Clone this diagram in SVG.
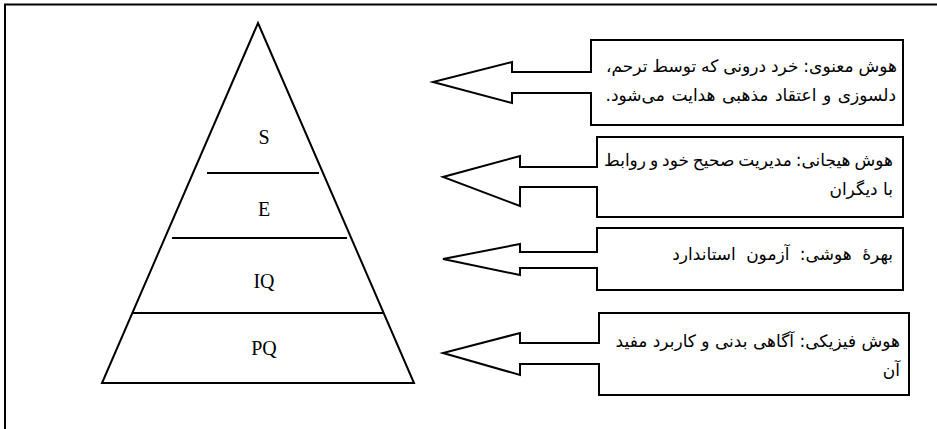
<svg xmlns="http://www.w3.org/2000/svg" width="937" height="429" viewBox="0 0 937 429">
<style>
.ln{fill:none;stroke:#000;stroke-width:2}
.co{fill:#fff;stroke:#000;stroke-width:2;stroke-linejoin:miter}
.lv{font-family:"Liberation Serif","Times New Roman",serif;font-size:20px;text-anchor:middle;fill:#000}
.fa{font-family:"DejaVu Sans","Noto Sans",sans-serif;font-size:17px;fill:#000;direction:rtl;text-anchor:start}
</style>
<rect width="937" height="429" fill="#fff"/>
<path class="ln" d="M5,429 V4.5 H937" stroke-width="2"/>
<g id="pyramid">
<polygon class="ln" points="258,23 414,383 102,383"/>
<line class="ln" x1="207" y1="173" x2="319" y2="173"/>
<line class="ln" x1="172" y1="238" x2="347" y2="238"/>
<line class="ln" x1="133" y1="313" x2="383" y2="313"/>
</g>
<g id="level-S"><text class="lv" x="264" y="144">S</text></g>
<g id="level-E"><text class="lv" x="264" y="216">E</text></g>
<g id="level-IQ"><text class="lv" x="264" y="288">IQ</text></g>
<g id="level-PQ"><text class="lv" x="264" y="355">PQ</text></g>
<g id="callout-spiritual">
<polygon class="co" points="591,40 903,40 903,125 591,125 591,93 512,93 512,103 433,82 512,62 512,72 591,72"/>
<text class="fa" x="897" y="72" word-spacing="-0.5">هوش معنوی: خرد درونی که توسط ترحم،</text>
<text class="fa" x="896" y="101" word-spacing="1.2">دلسوزی و اعتقاد مذهبی هدایت می‌شود.</text>
</g>
<g id="callout-emotional">
<polygon class="co" points="597,137 903,137 903,217 597,217 597,187 520,187 520,206 443,177 520,156 520,167 597,167"/>
<text class="fa" x="893" y="166" word-spacing="-1.5">هوش هیجانی: مدیریت صحیح خود و روابط</text>
<text class="fa" x="893" y="195">با دیگران</text>
</g>
<g id="callout-iq">
<polygon class="co" points="597,228 903,228 903,290 597,290 597,268 520,268 520,275 443,259 520,244 520,252 597,252"/>
<text class="fa" x="893" y="260" word-spacing="5">بهرهٔ هوشی: آزمون استاندارد</text>
</g>
<g id="callout-physical">
<polygon class="co" points="599,313 909,313 909,395 599,395 599,364 520,364 520,375 443,353 520,333 520,343 599,343"/>
<text class="fa" x="900" y="347">هوش فیزیکی: آگاهی بدنی و کاربرد مفید</text>
<text class="fa" x="900" y="376">آن</text>
</g>
</svg>
